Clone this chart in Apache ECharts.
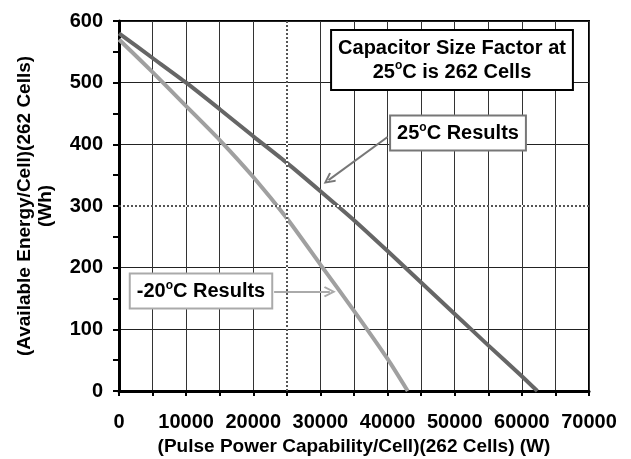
<!DOCTYPE html>
<html>
<head>
<meta charset="utf-8">
<script src="https://cdn.jsdelivr.net/npm/echarts@6/dist/echarts.min.js"></script>
<style>
  html, body { margin: 0; padding: 0; background: #fff; }
  #main { width: 631px; height: 459px; }
</style>
</head>
<body>
<div id="main"></div>
<script>
// pulse power per cell (W) and available energy per cell (Wh)
var power25 = [0, 5000, 10000, 15000, 20000, 25000, 30000, 35000, 40000, 45000, 50000, 55000, 60000, 62300];
var energy25 = [580, 540, 500, 457, 413, 370, 324, 277, 227, 176, 125, 74, 24, 0];
var powerM20 = [0, 5000, 10000, 15000, 20000, 25000, 30000, 35000, 40000, 43000];
var energyM20 = [570, 517, 462, 407, 347, 280, 205, 130, 52, 0];

var refPower = 25000;
var refEnergy = 300;

var FONT = "'Liberation Sans', Arial, sans-serif";
var chevron = 'path://M5,0 L10,9 L8.6,10 L5,3.5 L1.4,10 L0,9 Z';

function pairs(xs, ys) {
    var out = [];
    for (var i = 0; i < xs.length; i++) {
        out.push([xs[i], ys[i]]);
    }
    return out;
}

var chart = echarts.init(document.getElementById('main'));

var boxText = {
    n: { fontSize: 20, fontWeight: 'bold', fontFamily: FONT, fill: '#000', lineHeight: 24 },
    s: { fontSize: 12, fontWeight: 'bold', fontFamily: FONT, fill: '#000', lineHeight: 24, verticalAlign: 'top', padding: [0, 0, 8, 0] }
};

option = {
    animation: false,
    backgroundColor: '#fff',
    grid: {
        left: 119, right: 42, top: 21, bottom: 68,
        show: true, borderColor: '#000', borderWidth: 2,
        outerBoundsMode: 'none'
    },
    xAxis: {
        type: 'value',
        min: 0, max: 70000, interval: 10000,
        name: '(Pulse Power Capability/Cell)(262 Cells) (W)',
        nameLocation: 'middle',
        nameGap: 46,
        nameTextStyle: { fontSize: 19, fontWeight: 'bold', fontFamily: FONT, color: '#000' },
        axisLine: { lineStyle: { color: '#000', width: 3 } },
        axisTick: { show: true, length: 5, lineStyle: { color: '#000', width: 2 } },
        minorTick: { show: true, splitNumber: 2, length: 5, lineStyle: { color: '#000', width: 2 } },
        axisLabel: {
            margin: 21, fontSize: 20, fontWeight: 'bold', fontFamily: FONT, color: '#000',
            formatter: function (v) { return String(v); }
        },
        splitLine: { show: true, lineStyle: { color: '#333', width: 1 } },
        minorSplitLine: { show: true, lineStyle: { color: '#333', width: 1 } }
    },
    yAxis: {
        type: 'value',
        min: 0, max: 600, interval: 100,
        name: '(Available Energy/Cell)(262 Cells)\n(Wh)',
        nameLocation: 'middle',
        nameRotate: 90,
        nameGap: 63,
        nameTextStyle: { fontSize: 19, fontWeight: 'bold', fontFamily: FONT, color: '#000', lineHeight: 21, align: 'center' },
        axisLine: { show: true, lineStyle: { color: '#000', width: 3 } },
        axisTick: { show: true, length: 6, lineStyle: { color: '#000', width: 2 } },
        minorTick: { show: true, splitNumber: 2, length: 6, lineStyle: { color: '#000', width: 2 } },
        axisLabel: { margin: 16, fontSize: 20, fontWeight: 'bold', fontFamily: FONT, color: '#000' },
        splitLine: { show: true, lineStyle: { color: '#222', width: 1 } }
    },
    series: [
        {
            name: 'ref',
            type: 'line',
            data: [],
            z: 1,
            markLine: {
                silent: true,
                symbol: ['none', 'none'],
                label: { show: false },
                data: [
                    { xAxis: refPower, lineStyle: { color: '#fff', width: 2, type: 'solid' } },
                    { yAxis: refEnergy, lineStyle: { color: '#fff', width: 2, type: 'solid' } },
                    { xAxis: refPower, lineStyle: { color: '#555', width: 2, type: [2, 2] } },
                    { yAxis: refEnergy, lineStyle: { color: '#555', width: 2, type: [2, 2] } }
                ]
            }
        },
        {
            name: '25°C Results',
            type: 'line',
            data: pairs(power25, energy25),
            showSymbol: false,
            smooth: 0.2,
            z: 3,
            lineStyle: { color: '#666', width: 4 },
            markLine: {
                silent: true,
                symbol: ['none', chevron],
                symbolSize: [11, 12],
                label: { show: false },
                lineStyle: { color: '#777', width: 2, type: 'solid' },
                data: [[{ coord: [40000, 412] }, { coord: [31200, 342] }]]
            }
        },
        {
            name: '-20°C Results',
            type: 'line',
            data: pairs(powerM20, energyM20),
            showSymbol: false,
            smooth: 0.2,
            z: 3,
            lineStyle: { color: '#a0a0a0', width: 4 },
            markLine: {
                silent: true,
                symbol: ['none', chevron],
                symbolSize: [11, 12],
                label: { show: false },
                lineStyle: { color: '#aaa', width: 2, type: 'solid' },
                data: [[{ coord: [23100, 161] }, { coord: [31400, 161] }]]
            }
        }
    ],
    graphic: [
        {
            type: 'text', x: 452, y: 60, z: 10,
            style: {
                text: '{n|Capacitor Size Factor at}\n{n|25}{s|o}{n|C is 262 Cells}',
                rich: boxText, align: 'center', verticalAlign: 'middle',
                backgroundColor: '#fff', borderColor: '#000', borderWidth: 2,
                padding: [5, 6, 5, 6]
            }
        },
        {
            type: 'text', x: 458, y: 133, z: 10,
            style: {
                text: '{n|25}{s|o}{n|C Results}',
                rich: boxText, align: 'center', verticalAlign: 'middle',
                backgroundColor: '#fff', borderColor: '#777', borderWidth: 2,
                padding: [5, 6, 4, 6]
            }
        },
        {
            type: 'text', x: 201, y: 291, z: 10,
            style: {
                text: '{n|-20}{s|o}{n|C Results}',
                rich: boxText, align: 'center', verticalAlign: 'middle',
                backgroundColor: '#fff', borderColor: '#aaa', borderWidth: 2,
                padding: [5, 6, 4, 6]
            }
        }
    ]
};

chart.setOption(option);
</script>
</body>
</html>
